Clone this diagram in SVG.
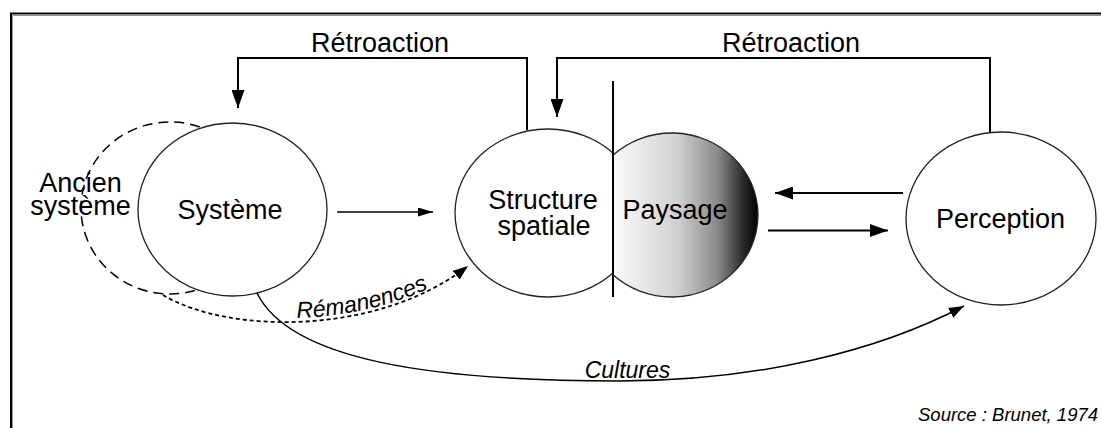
<svg xmlns="http://www.w3.org/2000/svg" width="1101" height="428" viewBox="0 0 1101 428">
<style>
.t{font-family:"Liberation Sans",Arial,sans-serif;font-size:27px;fill:#000;text-anchor:middle}
.i{font-family:"Liberation Sans",Arial,sans-serif;font-style:italic;font-size:23px;fill:#000}
.node{fill:#fff;stroke:#222;stroke-width:1.3}
.thick{fill:none;stroke:#000;stroke-width:2}
.thin{fill:none;stroke:#000;stroke-width:1.5}
</style>
<defs>
<linearGradient id="gPay" x1="0" y1="0" x2="1" y2="0">
<stop offset="0" stop-color="#fbfbfb"/>
<stop offset="0.45" stop-color="#d0d0d0"/>
<stop offset="0.72" stop-color="#8a8a8a"/>
<stop offset="0.9" stop-color="#2a2a2a"/>
<stop offset="1" stop-color="#000"/>
</linearGradient>
<marker id="aL" markerUnits="userSpaceOnUse" markerWidth="19" markerHeight="13" refX="18" refY="6.5" orient="auto"><path d="M0,0 L18,6.5 L0,13 Z" fill="#000"/></marker>
<marker id="aS" markerUnits="userSpaceOnUse" markerWidth="16" markerHeight="9" refX="15" refY="4.5" orient="auto"><path d="M0,0 L15,4.5 L0,9 Z" fill="#000"/></marker>
<marker id="aM" markerUnits="userSpaceOnUse" markerWidth="16" markerHeight="11" refX="15" refY="5.5" orient="auto"><path d="M0,0 L15,5.5 L0,11 Z" fill="#000"/></marker>
<path id="remPath" d="M297,318 C340,317 400,306 445,280"/>
</defs>
<rect width="1101" height="428" fill="#fff"/>
<g id="frame">
<path d="M12.5,428 V15.5 H1101" fill="none" stroke="#999" stroke-width="1"/>
<path d="M11,428 V13.5 H1101" fill="none" stroke="#000" stroke-width="2"/>
</g>
<g id="ancien">
<ellipse cx="170" cy="208" rx="89" ry="86" fill="none" stroke="#000" stroke-width="1.5" stroke-dasharray="10,6"/>
<text class="t" x="80.5" y="192">Ancien</text>
<text class="t" x="80.5" y="215">système</text>
</g>
<g id="systeme">
<ellipse class="node" cx="232.5" cy="209.5" rx="94.5" ry="86.5"/>
<text class="t" x="230" y="219">Système</text>
</g>
<g id="structure">
<path class="node" d="M613,152.9 A93,84 0 1,0 613,273.1"/>
<text class="t" x="543" y="209">Structure</text>
<text class="t" x="544" y="235">spatiale</text>
</g>
<g id="paysage">
<path d="M613,155.3 A86,82 0 1,1 613,274.7 Z" fill="url(#gPay)" stroke="#222" stroke-width="1.3"/>
<line x1="613" y1="81" x2="613" y2="297" stroke="#000" stroke-width="2"/>
<text class="t" x="675" y="219">Paysage</text>
</g>
<g id="perception">
<ellipse class="node" cx="1001" cy="218.5" rx="95" ry="86.5"/>
<text class="t" x="1000.5" y="228">Perception</text>
</g>
<g id="connectors">
<path class="thick" d="M527,130 V58 H238 V108" marker-end="url(#aL)"/>
<path class="thick" d="M990,132 V58 H557 V117" marker-end="url(#aL)"/>
<line class="thin" x1="337" y1="212" x2="433" y2="212" marker-end="url(#aS)"/>
<line class="thick" x1="903" y1="193" x2="775" y2="193" marker-end="url(#aL)"/>
<line class="thick" x1="768" y1="230.5" x2="888" y2="230.5" marker-end="url(#aL)"/>
<path d="M163,295 C230,335 380,335 468,266" fill="none" stroke="#000" stroke-width="1.8" stroke-dasharray="4,3" marker-end="url(#aM)"/>
<path d="M257,293 C290,360 430,381 620,381 C760,381 880,350 964,306" fill="none" stroke="#000" stroke-width="1.5" marker-end="url(#aM)"/>
</g>
<g id="labels">
<text class="t" x="380" y="52">Rétroaction</text>
<text class="t" x="791" y="52">Rétroaction</text>
<text class="i"><textPath href="#remPath">Rémanences</textPath></text>
<text class="i" x="627.5" y="378" text-anchor="middle">Cultures</text>
<text class="i" x="1098" y="421" text-anchor="end" style="font-size:18.5px">Source : Brunet, 1974</text>
</g>
</svg>
